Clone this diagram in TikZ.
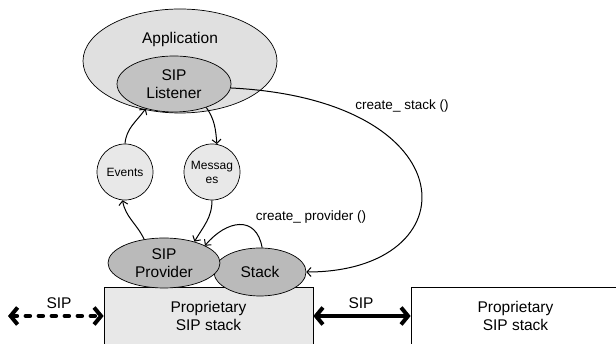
\documentclass[tikz,border=0pt]{standalone}
\usepackage{fontspec}
\setmainfont{Liberation Sans}
\usetikzlibrary{shapes.geometric,arrows.meta}

\definecolor{appgr}{gray}{0.88}
\definecolor{lisgr}{gray}{0.76}
\definecolor{bubgr}{gray}{0.91}
\definecolor{provgr}{gray}{0.73}
\definecolor{boxgr}{gray}{0.91}

\begin{document}
\begin{tikzpicture}[x=1pt,y=1pt,line width=0.7pt,
  blob/.style={draw,ellipse,inner sep=0pt,align=center,
               font=\fontsize{15.5}{18.5}\selectfont},
  bubble/.style={draw,circle,fill=bubgr,minimum size=56pt,inner sep=0pt,
               align=center,font=\fontsize{12}{14}\selectfont},
  sysbox/.style={draw,rectangle,minimum height=58pt,inner sep=0pt,
               align=center,font=\fontsize{15.5}{18.5}\selectfont},
  txt/.style={inner sep=0pt,font=\fontsize{15.5}{18.5}\selectfont},
  lbl/.style={inner sep=0pt,font=\fontsize{13.5}{16}\selectfont},
  flow/.style={line width=1pt,-{Straight Barb[length=4pt,width=9pt]}},
  sipline/.style={line width=4pt,line cap=round,
               {Straight Barb[length=7pt,width=17pt]}-{Straight Barb[length=7pt,width=17pt]}}]

  \useasboundingbox (0,0) rectangle (616,344);

  % application side
  \node[blob,fill=appgr,minimum width=194pt,minimum height=104pt] (app) at (180,283) {};
  \node[txt] (apptxt) at (180,304) {Application};
  \node[blob,fill=lisgr,minimum width=114pt,minimum height=56pt] (lis) at (174,260) {SIP\\Listener};

  \node[bubble] (evt) at (125,172) {Events};
  \node[bubble] (msg) at (212,172) {Messag\\es};

  % stacks
  \node[sysbox,fill=boxgr,minimum width=209pt] (lbox) at (208.5,28) {Proprietary\\SIP stack};
  \node[sysbox,fill=white,minimum width=209pt] (rbox) at (515.5,28) {Proprietary\\SIP stack};

  \node[blob,fill=provgr,minimum width=92pt,minimum height=48pt] (stk) at (260,72) {Stack};
  \node[blob,fill=provgr,minimum width=112pt,minimum height=50pt] (prov) at (164,81) {SIP\\Provider};

  % calls between the objects
  \draw[flow] (evt.north) to[out=85,in=235] (lis.221);
  \draw[flow] (lis.-36) to[out=-55,in=95] (msg.80);
  \draw[flow] (msg.south) to[out=-90,in=60] (prov.35);
  \draw[flow] (prov.130) to[out=115,in=-80] (evt.265);
  \draw[flow] (stk.85) to[out=100,in=50,looseness=1.5] (prov.23);
  \draw[flow] (lis.-4) .. controls +(240,-12) and +(165,0) .. (stk.east);

  \node[lbl] (cs) at (402,238) {create\_ stack ()};
  \node[lbl] (cp) at (311,127) {create\_ provider ()};

  % SIP links
  \coordinate (far) at (8,28);
  \draw[sipline,dash pattern=on 4.5pt off 8.5pt] (far) -- (lbox.west);
  \draw[sipline] (lbox.east) -- (rbox.west);
  \node[txt] (sipa) at (59,41) {SIP};
  \node[txt] (sipb) at (361,41) {SIP};
\end{tikzpicture}
\end{document}
